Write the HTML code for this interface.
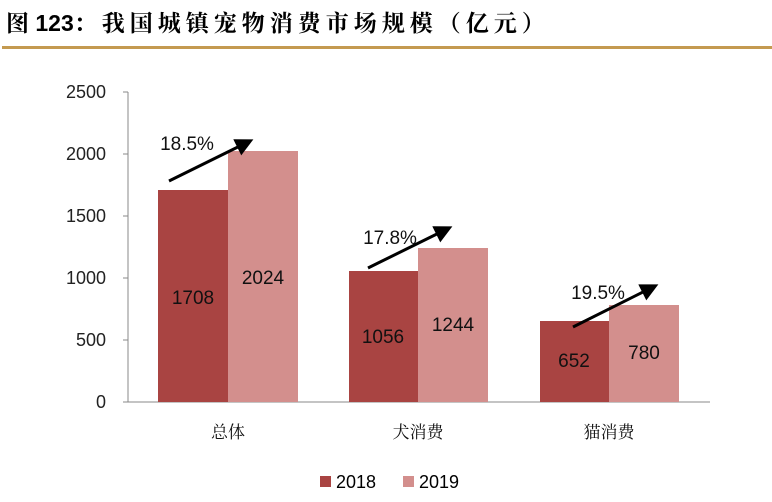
<!DOCTYPE html><html><head><meta charset="utf-8"><style>body{margin:0;background:#fff}</style></head><body>
<svg width="772" height="497" viewBox="0 0 772 497" xmlns="http://www.w3.org/2000/svg" font-family="Liberation Sans, Noto Sans CJK SC, sans-serif">
<text x="6" y="31" font-size="23" font-weight="bold" font-family="Liberation Sans, Noto Serif CJK SC, sans-serif"><tspan>图 123</tspan><tspan letter-spacing="5">：我国城镇宠物消费市场规模（亿元）</tspan></text>
<rect x="2" y="46" width="770" height="3" fill="#c49a50"/>
<defs><marker id="a" markerWidth="6" markerHeight="6" refX="4" refY="3" orient="auto" markerUnits="strokeWidth"><path d="M0,0L6,3L0,6z" fill="#000"/></marker></defs>
<g font-size="18" fill="#222" text-anchor="end">
<text x="106" y="408">0</text><text x="106" y="346">500</text><text x="106" y="284">1000</text><text x="106" y="222">1500</text><text x="106" y="160">2000</text><text x="106" y="98">2500</text></g>
<line x1="128" y1="92" x2="128" y2="402" stroke="#888"/>
<line x1="128" y1="402" x2="710" y2="402" stroke="#888"/>
<g stroke="#888"><line x1="123" y1="92" x2="128" y2="92"/><line x1="123" y1="154" x2="128" y2="154"/><line x1="123" y1="216" x2="128" y2="216"/><line x1="123" y1="278" x2="128" y2="278"/><line x1="123" y1="340" x2="128" y2="340"/><line x1="123" y1="402" x2="128" y2="402"/></g>
<g fill="#a94442"><rect x="158" y="190" width="70" height="212"/><rect x="349" y="271" width="69" height="131"/><rect x="540" y="321" width="69" height="81"/></g>
<g fill="#d38f8d"><rect x="228" y="151" width="70" height="251"/><rect x="418" y="248" width="70" height="154"/><rect x="609" y="305" width="70" height="97"/></g>
<g font-size="19" fill="#111" text-anchor="middle">
<text x="193" y="304">1708</text><text x="263" y="284">2024</text>
<text x="383" y="343">1056</text><text x="453" y="331">1244</text>
<text x="574" y="367">652</text><text x="644" y="359">780</text>
<text x="187" y="150">18.5%</text><text x="390" y="244">17.8%</text><text x="598" y="299">19.5%</text></g>
<g stroke="#000" stroke-width="3" marker-end="url(#a)">
<line x1="169" y1="181" x2="248" y2="142"/><line x1="368" y1="268" x2="447" y2="229"/><line x1="573" y1="327" x2="653" y2="287"/></g>
<g font-size="17" fill="#111" text-anchor="middle" font-family="Liberation Serif, Noto Serif CJK SC, serif">
<text x="228" y="438">总体</text><text x="418" y="438">犬消费</text><text x="609" y="438">猫消费</text></g>
<rect x="320" y="476" width="11" height="11" fill="#a94442"/><text x="336" y="488" font-size="18">2018</text>
<rect x="403" y="476" width="11" height="11" fill="#d38f8d"/><text x="419" y="488" font-size="18">2019</text>
</svg></body></html>
